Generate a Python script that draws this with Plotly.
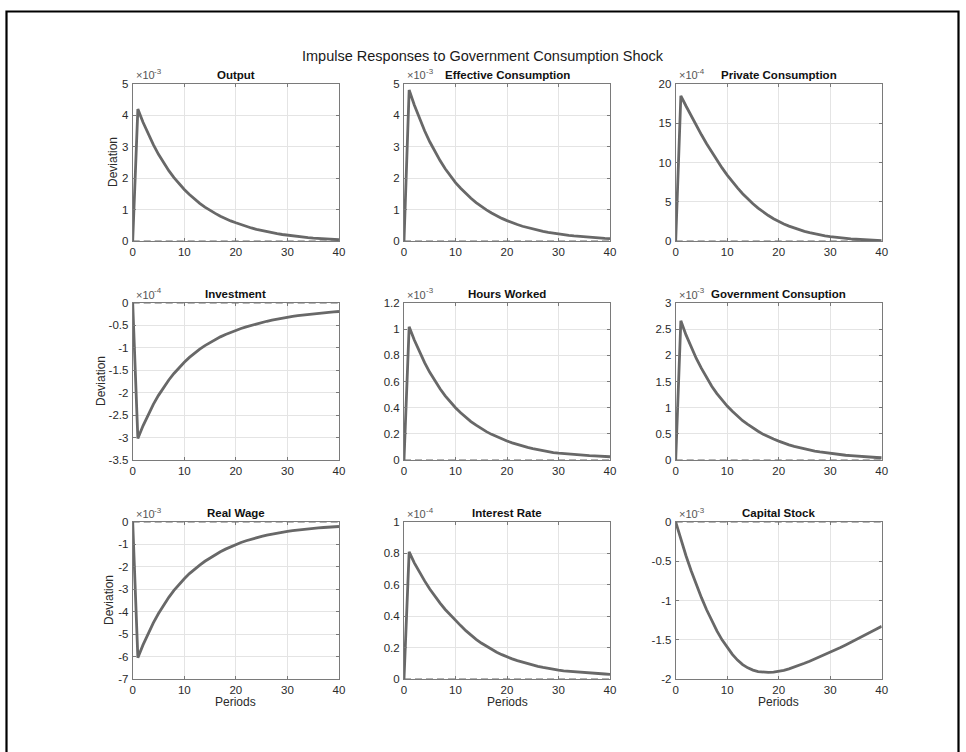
import plotly.graph_objects as go

periods = list(range(41))

titles = ["Output", "Effective Consumption", "Private Consumption",
          "Investment", "Hours Worked", "Government Consuption",
          "Real Wage", "Interest Rate", "Capital Stock"]

# values shown in the units of each panel's "x10^k" multiplier
output = [0, 4.20, 3.78, 3.41, 3.07, 2.76, 2.49, 2.24, 2.02, 1.82, 1.64,
          1.48, 1.33, 1.20, 1.08, 0.97, 0.88, 0.79, 0.71, 0.64, 0.58,
          0.52, 0.465, 0.415, 0.37, 0.33, 0.295, 0.263, 0.234, 0.207, 0.183,
          0.161, 0.141, 0.123, 0.107, 0.093, 0.080, 0.068, 0.058, 0.049, 0.041]
effective_consumption = [0, 4.81, 4.33, 3.90, 3.51, 3.16, 2.84, 2.56, 2.30, 2.07, 1.86,
                         1.68, 1.51, 1.36, 1.22, 1.10, 0.99, 0.89, 0.80, 0.72, 0.65,
                         0.58, 0.525, 0.47, 0.425, 0.38, 0.342, 0.308, 0.277, 0.249, 0.224,
                         0.201, 0.181, 0.163, 0.147, 0.132, 0.119, 0.107, 0.096, 0.086, 0.077]
private_consumption = [0, 18.5, 17.20, 15.94, 14.71, 13.53, 12.39, 11.31, 10.28, 9.31, 8.40,
                       7.55, 6.76, 6.03, 5.36, 4.75, 4.19, 3.69, 3.24, 2.84, 2.48,
                       2.17, 1.89, 1.64, 1.42, 1.23, 1.06, 0.91, 0.78, 0.665, 0.565,
                       0.475, 0.40, 0.33, 0.27, 0.22, 0.175, 0.135, 0.10, 0.07, 0.045]
investment = [0, -3.02, -2.738, -2.486, -2.261, -2.059, -1.878, -1.716, -1.570, -1.438, -1.320,
              -1.213, -1.117, -1.029, -0.950, -0.879, -0.814, -0.755, -0.702, -0.653, -0.609,
              -0.568, -0.531, -0.496, -0.464, -0.434, -0.407, -0.381, -0.357, -0.335, -0.315,
              -0.297, -0.280, -0.265, -0.251, -0.238, -0.227, -0.216, -0.207, -0.198, -0.190]
hours_worked = [0, 1.018, 0.917, 0.826, 0.744, 0.670, 0.604, 0.544, 0.490, 0.442, 0.400,
                0.361, 0.326, 0.294, 0.266, 0.240, 0.217, 0.196, 0.177, 0.160, 0.145,
                0.131, 0.118, 0.106, 0.096, 0.087, 0.078, 0.070, 0.063, 0.057, 0.052,
                0.048, 0.044, 0.041, 0.038, 0.035, 0.033, 0.031, 0.029, 0.027, 0.025]
government_consumption = [0, 2.66, 2.39, 2.15, 1.94, 1.75, 1.57, 1.41, 1.27, 1.14, 1.03,
                          0.93, 0.83, 0.75, 0.68, 0.61, 0.55, 0.49, 0.44, 0.40, 0.36,
                          0.32, 0.29, 0.26, 0.235, 0.21, 0.19, 0.17, 0.155, 0.14, 0.125,
                          0.112, 0.101, 0.091, 0.082, 0.073, 0.066, 0.059, 0.053, 0.048, 0.043]
real_wage = [0, -6.05, -5.48, -4.97, -4.50, -4.08, -3.70, -3.36, -3.05, -2.78, -2.53,
             -2.30, -2.10, -1.92, -1.75, -1.60, -1.46, -1.33, -1.21, -1.10, -1.00,
             -0.915, -0.837, -0.766, -0.701, -0.642, -0.589, -0.541, -0.497, -0.457, -0.420,
             -0.387, -0.357, -0.330, -0.306, -0.284, -0.264, -0.246, -0.230, -0.215, -0.201]
interest_rate = [0, 0.81, 0.74, 0.68, 0.625, 0.573, 0.526, 0.483, 0.443, 0.407, 0.375,
                 0.340, 0.308, 0.279, 0.253, 0.229, 0.208, 0.188, 0.171, 0.155, 0.140,
                 0.128, 0.117, 0.107, 0.097, 0.089, 0.081, 0.074, 0.067, 0.061, 0.056,
                 0.052, 0.049, 0.046, 0.043, 0.040, 0.038, 0.036, 0.034, 0.032, 0.030]
capital_stock = [0, -0.225, -0.43, -0.62, -0.798, -0.964, -1.118, -1.26, -1.388, -1.501, -1.599,
                 -1.687, -1.759, -1.816, -1.858, -1.887, -1.905, -1.914, -1.916, -1.912, -1.903,
                 -1.889, -1.871, -1.850, -1.826, -1.800, -1.773, -1.745, -1.717, -1.688, -1.659,
                 -1.629, -1.598, -1.566, -1.534, -1.501, -1.467, -1.433, -1.399, -1.364, -1.329]
zero_line = [0] * 41

series = [output, effective_consumption, private_consumption,
          investment, hours_worked, government_consumption,
          real_wage, interest_rate, capital_stock]
exponents = [-3, -3, -4, -4, -3, -3, -3, -4, -3]
y_ranges = [(0, 5), (0, 5), (0, 20), (-3.5, 0), (0, 1.2), (0, 3), (-7, 0), (0, 1), (-2, 0)]
y_steps = [1, 1, 5, 0.5, 0.2, 0.5, 1, 0.2, 0.5]
x_ticks = [0, 10, 20, 30, 40]

W, H = 966, 752
# pixel positions in the picture
col_px = [(132.7, 339.0), (404.0, 610.0), (675.7, 881.7)]
row_px = [(84.0, 241.0), (303.0, 460.0), (522.0, 679.0)]
ylabel_x = [112.5, 100.5, 108.5]


def PX(x):
    return x / W


def PY(y):
    return 1 - y / H


FONT = "Liberation Sans, Arial, Helvetica, sans-serif"
AXIS_COLOR = "#7a7a7a"
TEXT_COLOR = "#2a2a2a"


def fmt(v):
    s = ("%.2f" % v).rstrip("0").rstrip(".")
    if s == "-0":
        s = "0"
    return s


fig = go.Figure()
annotations = []

for i in range(9):
    r, c = divmod(i, 3)
    ax = "" if i == 0 else str(i + 1)
    xa, ya = "x" + ax, "y" + ax
    x0p, x1p = col_px[c]
    t_px, b_px = row_px[r]
    lo, hi = y_ranges[i]
    n = int(round((hi - lo) / y_steps[i]))
    yt = [lo + k * y_steps[i] for k in range(n + 1)]

    fig.add_trace(go.Scatter(x=periods, y=zero_line, mode="lines",
                             line=dict(color="#9a9a9a", width=1.6, dash="7px,4px"),
                             xaxis=xa, yaxis=ya, showlegend=False, hoverinfo="skip"))
    fig.add_trace(go.Scatter(x=periods, y=series[i], mode="lines",
                             line=dict(color="#686868", width=2.8),
                             xaxis=xa, yaxis=ya, showlegend=False))

    common = dict(showline=True, linecolor=AXIS_COLOR, linewidth=1, mirror="ticks",
                  ticks="inside", ticklen=3, tickcolor=AXIS_COLOR,
                  showgrid=True, gridcolor="#e4e4e4", gridwidth=1, zeroline=False,
                  automargin=False,
                  tickfont=dict(family=FONT, size=11.5, color=TEXT_COLOR))
    fig.update_layout(**{
        "xaxis" + ax: dict(domain=[PX(x0p), PX(x1p)], range=[0, 40],
                           tickvals=x_ticks, ticktext=[str(v) for v in x_ticks],
                           ticklabelstandoff=0, anchor=ya, **common),
        "yaxis" + ax: dict(domain=[PY(b_px), PY(t_px)], range=[lo, hi],
                           tickvals=yt, ticktext=[fmt(v) for v in yt],
                           ticklabelstandoff=1, anchor=xa, **common),
    })

    cx = PX((x0p + x1p) / 2)
    annotations.append(dict(text=titles[i], x=cx, y=PY(t_px - 1.5),
                            xref="paper", yref="paper", xanchor="center", yanchor="bottom",
                            showarrow=False,
                            font=dict(family=FONT, size=11.5, color="#111", weight="bold")))
    # "x10" multiplier with its raised exponent
    annotations.append(dict(text="×10", x=PX(x0p + 1), y=PY(t_px - 0.5),
                            xref="paper", yref="paper", xanchor="left", yanchor="bottom",
                            showarrow=False, font=dict(family=FONT, size=11, color="#555")))
    annotations.append(dict(text=str(exponents[i]), x=PX(x0p + 19.5), y=PY(t_px - 5.5),
                            xref="paper", yref="paper", xanchor="left", yanchor="bottom",
                            showarrow=False, font=dict(family=FONT, size=8, color="#555")))
    if c == 0:
        annotations.append(dict(text="Deviation", x=PX(ylabel_x[r]), y=PY((t_px + b_px) / 2),
                                xref="paper", yref="paper", textangle=-90,
                                xanchor="center", yanchor="middle", showarrow=False,
                                font=dict(family=FONT, size=12, color=TEXT_COLOR)))
    if r == 2:
        annotations.append(dict(text="Periods", x=cx, y=PY(701.5),
                                xref="paper", yref="paper", xanchor="center", yanchor="middle",
                                showarrow=False, font=dict(family=FONT, size=12, color=TEXT_COLOR)))

annotations.append(dict(text="Impulse Responses to Government Consumption Shock",
                        x=PX(483), y=PY(56), xref="paper", yref="paper",
                        xanchor="center", yanchor="middle", showarrow=False,
                        font=dict(family=FONT, size=14.5, color="#1a1a1a")))

fig.update_layout(
    width=W, height=H, margin=dict(l=0, r=0, t=0, b=0),
    paper_bgcolor="white", plot_bgcolor="white",
    annotations=annotations,
    shapes=[dict(type="rect", xref="paper", yref="paper",
                 x0=PX(6.5), x1=PX(958.5), y0=-0.05, y1=PY(11.5),
                 line=dict(color="black", width=2.2), fillcolor="rgba(0,0,0,0)")],
)

fig.write_html("out.html", config={"displayModeBar": False},
               post_script="document.body.style.margin='0px';"
                           "document.body.style.overflow='hidden';")
